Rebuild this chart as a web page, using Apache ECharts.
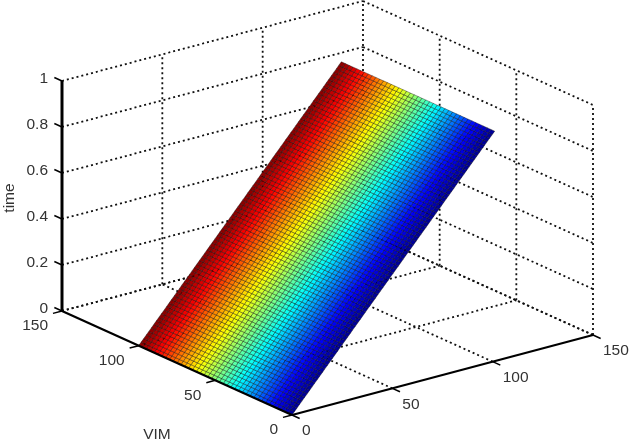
<!DOCTYPE html>
<html>
<head>
<meta charset="utf-8">
<style>html,body{margin:0;padding:0;background:#fff}#chart{width:629px;height:444px;filter:blur(0.45px)}</style>
<script src="https://cdn.jsdelivr.net/npm/echarts@6/dist/echarts.min.js"></script>
</head>
<body>
<div id="chart"></div>
<script>
// Tick values
const timeTicks = [0, 0.2, 0.4, 0.6, 0.8, 1];
const timeTickLabels = ['0', '0.2', '0.4', '0.6', '0.8', '1'];
const vimTicks = [0, 50, 100, 150];
const otherTicks = [0, 50, 100, 150];

// Surface samples
const surfaceVim = [0,2.5,5,7.5,10,12.5,15,17.5,20,22.5,25,27.5,30,32.5,35,37.5,40,42.5,45,47.5,50,52.5,55,57.5,60,62.5,65,67.5,70,72.5,75,77.5,80,82.5,85,87.5,90,92.5,95,97.5,100];
const surfaceOther = [0,
  1.26,2.53,3.79,5.05,6.31,7.58,8.84,10.1,
  11.36,12.63,13.89,15.15,16.41,17.68,18.94,20.2,
  21.46,22.73,23.99,25.25,26.51,27.78,29.04,30.3,
  31.56,32.83,34.09,35.35,36.61,37.88,39.14,40.4,
  41.66,42.93,44.19,45.45,46.71,47.98,49.24,50.5,
  51.76,53.03,54.29,55.55,56.81,58.08,59.34,60.6,
  61.86,63.13,64.39,65.65,66.91,68.18,69.44,70.7,
  71.96,73.23,74.49,75.75,77.01,78.28,79.54,80.8,
  82.06,83.33,84.59,85.85,87.11,88.38,89.64,90.9,
  92.16,93.43,94.69,95.95,97.21,98.48,99.74,101];
const surfaceTime = [0,
  0.0125,0.025,0.0375,0.05,0.0625,0.075,0.0875,0.1,
  0.1125,0.125,0.1375,0.15,0.1625,0.175,0.1875,0.2,
  0.2125,0.225,0.2375,0.25,0.2625,0.275,0.2875,0.3,
  0.3125,0.325,0.3375,0.35,0.3625,0.375,0.3875,0.4,
  0.4125,0.425,0.4375,0.45,0.4625,0.475,0.4875,0.5,
  0.5125,0.525,0.5375,0.55,0.5625,0.575,0.5875,0.6,
  0.6125,0.625,0.6375,0.65,0.6625,0.675,0.6875,0.7,
  0.7125,0.725,0.7375,0.75,0.7625,0.775,0.7875,0.8,
  0.8125,0.825,0.8375,0.85,0.8625,0.875,0.8875,0.9,
  0.9125,0.925,0.9375,0.95,0.9625,0.975,0.9875,1];

// Jet colour map stops
const jetStops = ['#00008f','#0000ff','#00ffff','#ffff00','#ff0000','#800000'];
const jetPositions = [0, 0.125, 0.375, 0.625, 0.875, 1];

// Oblique view of the box: plane units per data unit
const view = {otherU: 301/150, otherV: 80/150, vimU: -230/150, vimV: 104/150, timeV: 230};
function project(other, vim, time) {
  return [other*view.otherU + vim*view.vimU, other*view.otherV + vim*view.vimV + time*view.timeV];
}
function jet(t) {
  for (let i = 1; i < jetPositions.length; i++) {
    if (t <= jetPositions[i]) {
      const f = (t - jetPositions[i-1]) / (jetPositions[i] - jetPositions[i-1]);
      return echarts.color.lerp(f, [jetStops[i-1], jetStops[i]]);
    }
  }
  return jetStops[jetStops.length-1];
}

// Dotted box grid
const gridLines = [];
timeTicks.forEach(t => {
  gridLines.push([0,150,t, 150,150,t]);
  gridLines.push([150,150,t, 150,0,t]);
});
otherTicks.slice(1).forEach(o => gridLines.push([o,150,0, o,150,1]));
vimTicks.slice(0,3).forEach(v => gridLines.push([150,v,0, 150,v,1]));
otherTicks.slice(1).forEach(o => gridLines.push([o,0,0, o,150,0]));
vimTicks.slice(1).forEach(v => gridLines.push([0,v,0, 150,v,0]));

// Surface cells
const cells = [];
for (let i = 0; i < surfaceVim.length-1; i++) {
  for (let j = 0; j < surfaceOther.length-1; j++) {
    cells.push([surfaceVim[i], surfaceVim[i+1], surfaceOther[j], surfaceOther[j+1], surfaceTime[j], surfaceTime[j+1]]);
  }
}

// Solid axes and ticks
const axisLines = [
  [0,150,0, 0,150,1, 3],
  [0,150,0, 0,0,0, 2.2],
  [0,0,0, 150,0,0, 2.2]
];
timeTicks.forEach(t => axisLines.push([0,150,t, 0,155,t, 1.5]));
vimTicks.forEach(v => axisLines.push([0,v,0, -4.5,v,0, 1.5]));
otherTicks.forEach(o => axisLines.push([o,0,0, o,-5,0, 1.5]));

// Text labels: [other, vim, time, text, dx, dy, align, rotated]
const labels = [];
timeTicks.forEach((t,i) => labels.push([0,150,t,timeTickLabels[i],-14,-2,'right',0]));
vimTicks.forEach(v => labels.push([0,v,0,String(v),-14,15,'right',0]));
otherTicks.forEach(o => labels.push([o,0,0,String(o),10,16,'left',0]));
labels.push([0,75,0,'VIM',-20,72,'center',0]);
labels.push([0,150,0.5,'time',-52,2,'center',1]);

function segmentItem(style) {
  return function (params, api) {
    const a = api.coord(project(api.value(0), api.value(1), api.value(2)));
    const b = api.coord(project(api.value(3), api.value(4), api.value(5)));
    const w = api.value(6);
    return {type:'line', shape:{x1:a[0],y1:a[1],x2:b[0],y2:b[1]},
      style:Object.assign({}, style, w ? {lineWidth:w} : {})};
  };
}

const option = {
  animation:false,
  backgroundColor:'#fff',
  grid:{left:0,right:0,top:0,bottom:0},
  xAxis:{type:'value',min:-292,max:337,show:false},
  yAxis:{type:'value',min:-29,max:415,show:false},
  series:[
    {type:'custom',coordinateSystem:'cartesian2d',silent:true,z:1,clip:false,
     data:gridLines,
     encode:{x:0,y:1},
     renderItem:segmentItem({stroke:'#111',lineWidth:1.8,lineDash:[2,3],fill:null})},
    {type:'custom',coordinateSystem:'cartesian2d',silent:true,z:2,clip:false,
     data:cells,
     encode:{x:0,y:1},
     renderItem:function (params, api) {
       const v0=api.value(0), v1=api.value(1), o0=api.value(2), o1=api.value(3), t0=api.value(4), t1=api.value(5);
       const pts=[project(o0,v0,t0),project(o1,v0,t1),project(o1,v1,t1),project(o0,v1,t0)].map(p=>api.coord(p));
       return {type:'polygon',shape:{points:pts},
         style:{fill:jet((v0+v1)/200),stroke:'rgba(0,0,0,0.36)',lineWidth:1}};
     }},
    {type:'custom',coordinateSystem:'cartesian2d',silent:true,z:3,clip:false,
     data:axisLines,
     encode:{x:0,y:1},
     renderItem:segmentItem({stroke:'#000',fill:null})},
    {type:'custom',coordinateSystem:'cartesian2d',silent:true,z:4,clip:false,
     data:labels.map(l=>({value:[l[0],l[1],l[2]],text:l[3],dx:l[4],dy:l[5],align:l[6],rot:l[7]})),
     encode:{x:0,y:1},
     renderItem:function (params, api) {
       const d=option.series[3].data[params.dataIndex];
       const p=api.coord(project(api.value(0),api.value(1),api.value(2)));
       return {type:'text',x:p[0]+d.dx,y:p[1]+d.dy,rotation:d.rot?Math.PI/2:0,
         style:{text:d.text,fontFamily:'"Liberation Sans",Arial,sans-serif',fontSize:15.5,fill:'#333',
                align:d.align,verticalAlign:'middle'}};
     }}
  ]
};
const chart = echarts.init(document.getElementById('chart'),null,{renderer:'canvas'});
chart.setOption(option);
</script>
</body>
</html>
